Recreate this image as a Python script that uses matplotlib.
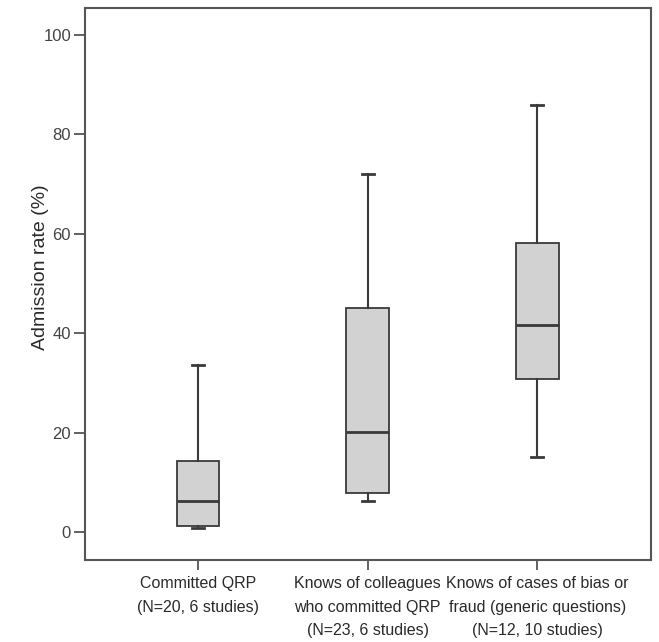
"""Box plot of admission rates by question type."""

import matplotlib

matplotlib.use("Agg")
import matplotlib.pyplot as plt

plt.rcParams["font.family"] = ["Liberation Sans", "DejaVu Sans"]

labels = [
    "Committed QRP\n(N=20, 6 studies)",
    "Knows of colleagues\nwho committed QRP\n(N=23, 6 studies)",
    "Knows of cases of bias or\nfraud (generic questions)\n(N=12, 10 studies)",
]
whislo = [0.8, 6.2, 15.0]
q1 = [1.2, 7.8, 30.8]
med = [6.2, 20.2, 41.6]
q3 = [14.3, 45.1, 58.2]
whishi = [33.6, 72.0, 85.9]

stats = [
    {"whislo": lo, "q1": a, "med": m, "q3": b, "whishi": hi, "fliers": []}
    for lo, a, m, b, hi in zip(whislo, q1, med, q3, whishi)
]

edge = "#3a3a3a"
text_color = "#2a2a2a"

fig = plt.figure(figsize=(6.59, 6.42), dpi=100)
ax = fig.add_axes([0.129, 0.128, 0.859, 0.8595])

ax.bxp(
    stats,
    positions=[1, 2, 3],
    widths=0.25,
    patch_artist=True,
    showfliers=False,
    boxprops=dict(facecolor="#d2d2d2", edgecolor=edge, linewidth=1.3),
    medianprops=dict(color=edge, linewidth=2),
    whiskerprops=dict(color=edge, linewidth=1.5),
    capprops=dict(color=edge, linewidth=2),
    capwidths=0.07,
)

ax.set_xlim(0.335, 3.67)
ax.set_ylim(-5.6, 105.4)
ax.set_yticks([0, 20, 40, 60, 80, 100])
ax.set_xticks([1, 2, 3])
ax.set_xticklabels(labels, fontsize=11.5, color=text_color, linespacing=1.68)
ax.tick_params(axis="y", labelsize=12, labelcolor="#444444", direction="out",
               length=8, width=1.3, color="#555555", pad=2)
ax.tick_params(axis="x", direction="out", length=7, width=1.3, color="#555555", pad=5)
ax.set_ylabel("Admission rate (%)", fontsize=14, color=text_color)
ax.yaxis.set_label_coords(-0.063, 0.53)

for spine in ax.spines.values():
    spine.set_color("#555555")
    spine.set_linewidth(1.5)

fig.savefig("out.png", dpi=100)
plt.close(fig)
